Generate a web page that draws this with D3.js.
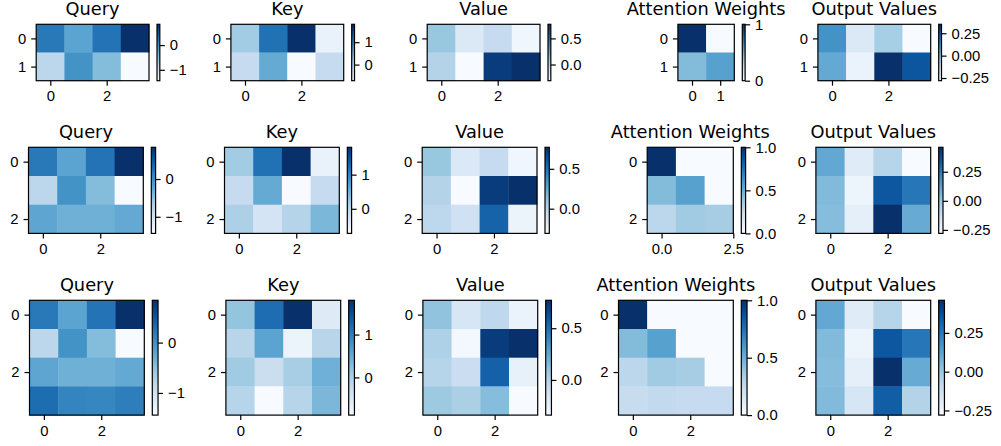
<!DOCTYPE html>
<html lang="en">
<head>
<meta charset="UTF-8">
<title>Self-attention steps</title>
<script src="https://d3js.org/d3.v7.min.js"></script>
<style>
  body { margin: 0; background: #fff; }
  svg { display: block; font-family: "DejaVu Sans", sans-serif; }
  .title { font-size: 17.8px; fill: #000; }
  .tick text { font-size: 14.8px; fill: #000; }
</style>
</head>
<body>
<svg id="chart" width="1001" height="446"></svg>
<script>
// full 4-token matrices; each row of the figure shows the first n tokens
const queryData = [
  [0.20, -0.19, 0.25, 0.84],
  [-0.80, -0.03, -0.44, -1.44],
  [-0.21, -0.32, -0.32, -0.25],
  [0.31, 0.11, 0.09, 0.16]
];
const keyData = [
  [0.19, 1.17, 1.80, -0.54],
  [-0.09, 0.59, -0.72, -0.09],
  [0.11, -0.27, 0.04, 0.44],
  [-0.08, -0.88, -0.08, 0.35]
];
const valueData = [
  [0.11, -0.16, -0.04, -0.27],
  [0.02, -0.31, 0.72, 0.77],
  [-0.01, -0.09, 0.56, -0.25],
  [0.08, 0.03, 0.14, -0.34]
];
const attentionData = [
  [1.00, 0.00, 0.00, 0.00],
  [0.44, 0.56, 0.00, 0.00],
  [0.28, 0.37, 0.35, 0.00],
  [0.24, 0.26, 0.25, 0.25]
];
const outputData = [
  [0.11, -0.19, -0.06, -0.28],
  [0.05, -0.24, 0.35, 0.26],
  [0.04, -0.21, 0.46, 0.10],
  [0.05, -0.16, 0.33, -0.05]
];

const seqLengths = [2, 3, 4];
const panelTitles = ["Query", "Key", "Value", "Attention Weights", "Output Values"];

// axis ticks (per sequence length)
const rowTicks = [[0, 1], [0, 2], [0, 2]];
const attnColTicks = [[0, 1], [0, 2.5], [0, 2]];
const attnColFormats = ["d", ".1f", "d"];
const featureColTicks = [0, 2];

// colorbar ticks
const queryCbarTicks = [-1, 0];
const keyCbarTicks = [0, 1];
const valueCbarTicks = [0, 0.5];
const attnCbarTicks = [[0, 1], [0, 0.5, 1], [0, 0.5, 1]];
const attnCbarFormats = ["d", ".1f", ".1f"];
const outputCbarTicks = [-0.25, 0, 0.25];

// matplotlib "Blues"
const bluesStops = ["#f7fbff", "#deebf7", "#c6dbef", "#9ecae1", "#6baed6",
                    "#4292c6", "#2171b5", "#08519c", "#08306b"];
const blues = d3.scaleLinear()
  .domain(bluesStops.map((d, i) => i / (bluesStops.length - 1)))
  .range(bluesStops)
  .clamp(true);

// layout measured per figure row: image top, cell size, image right edge per panel
const rowLayout = [
  { top: 24.3, cell: 28.2, right: [149, 343.7, 540, 734.3, 930.7] },
  { top: 147.3, cell: 28.7, right: [143.3, 339.3, 537, 733.3, 930.7] },
  { top: 300.3, cell: 28.7, right: [144.3, 340.7, 537.7, 733.3, 930.7] }
];
const cbarGap = 8;
const lw = 1.2;

const svg = d3.select("#chart");

const grad = svg.append("defs").append("linearGradient")
  .attr("id", "blues-grad")
  .attr("x1", 0).attr("y1", 1).attr("x2", 0).attr("y2", 0);
grad.selectAll("stop")
  .data(bluesStops)
  .join("stop")
  .attr("offset", (d, i) => i / (bluesStops.length - 1))
  .attr("stop-color", d => d);

function styleAxis(g) {
  g.select(".domain").remove();
  g.selectAll(".tick line").attr("stroke", "#000").attr("stroke-width", lw);
}

function drawPanel(matrix, title, lay, col, opts) {
  const nRows = matrix.length;
  const nCols = matrix[0].length;
  const right = lay.right[col];
  const left = right - nCols * lay.cell;
  const top = lay.top;
  const bottom = top + nRows * lay.cell;

  const x = d3.scaleLinear().domain([-0.5, nCols - 0.5]).range([left, right]);
  const y = d3.scaleLinear().domain([-0.5, nRows - 0.5]).range([top, bottom]);
  const extent = d3.extent(matrix.flat());
  const norm = d3.scaleLinear().domain(extent).range([0, 1]);

  const g = svg.append("g");

  const cells = [];
  matrix.forEach((row, i) => row.forEach((v, j) => cells.push({ i, j, v })));
  g.selectAll("rect.cell")
    .data(cells)
    .join("rect")
    .attr("class", "cell")
    .attr("x", d => x(d.j - 0.5))
    .attr("y", d => y(d.i - 0.5))
    .attr("width", x(1) - x(0) + 0.4)
    .attr("height", y(1) - y(0) + 0.4)
    .attr("fill", d => blues(norm(d.v)));

  g.append("rect")
    .attr("x", left).attr("y", top)
    .attr("width", right - left).attr("height", bottom - top)
    .attr("fill", "none").attr("stroke", "#000").attr("stroke-width", lw);

  g.append("g")
    .attr("transform", `translate(${left},0)`)
    .call(d3.axisLeft(y).tickValues(opts.yTicks).tickFormat(d3.format("d"))
      .tickSize(5).tickPadding(5))
    .call(styleAxis);

  g.append("g")
    .attr("transform", `translate(0,${bottom})`)
    .call(d3.axisBottom(x).tickValues(opts.xTicks).tickFormat(d3.format(opts.xFormat))
      .tickSize(5).tickPadding(5))
    .call(styleAxis);

  g.append("text")
    .attr("class", "title")
    .attr("x", (left + right) / 2)
    .attr("y", top - 9)
    .attr("text-anchor", "middle")
    .text(title);

  // colorbar
  const cbH = bottom - top;
  const cbW = cbH / 20;
  const cbX = right + cbarGap;
  const cScale = d3.scaleLinear().domain(extent).range([bottom, top]);

  g.append("rect")
    .attr("x", cbX).attr("y", top)
    .attr("width", cbW).attr("height", cbH)
    .attr("fill", "url(#blues-grad)")
    .attr("stroke", "#000").attr("stroke-width", lw);

  g.append("g")
    .attr("transform", `translate(${cbX + cbW},0)`)
    .call(d3.axisRight(cScale).tickValues(opts.cbTicks).tickFormat(d3.format(opts.cbFormat))
      .tickSize(5).tickPadding(5))
    .call(styleAxis);
}

seqLengths.forEach((n, r) => {
  const lay = rowLayout[r];
  const q = queryData.slice(0, n);
  const k = keyData.slice(0, n);
  const v = valueData.slice(0, n);
  const a = attentionData.slice(0, n).map(row => row.slice(0, n));
  const o = outputData.slice(0, n);

  const base = { yTicks: rowTicks[r], xTicks: featureColTicks, xFormat: "d" };
  drawPanel(q, panelTitles[0], lay, 0, { ...base, cbTicks: queryCbarTicks, cbFormat: "d" });
  drawPanel(k, panelTitles[1], lay, 1, { ...base, cbTicks: keyCbarTicks, cbFormat: "d" });
  drawPanel(v, panelTitles[2], lay, 2, { ...base, cbTicks: valueCbarTicks, cbFormat: ".1f" });
  drawPanel(a, panelTitles[3], lay, 3, {
    yTicks: rowTicks[r], xTicks: attnColTicks[r], xFormat: attnColFormats[r],
    cbTicks: attnCbarTicks[r], cbFormat: attnCbarFormats[r]
  });
  drawPanel(o, panelTitles[4], lay, 4, { ...base, cbTicks: outputCbarTicks, cbFormat: ".2f" });
});
</script>
</body>
</html>
